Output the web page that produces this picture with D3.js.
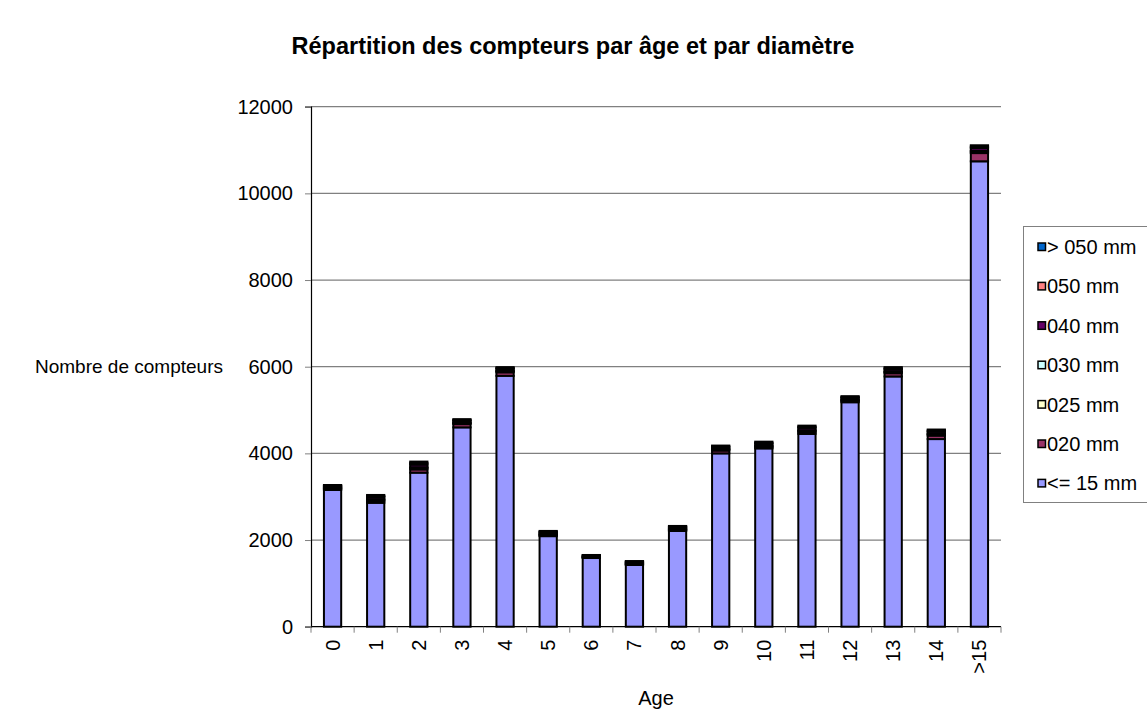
<!DOCTYPE html>
<html>
<head>
<meta charset="utf-8">
<script src="https://cdn.jsdelivr.net/npm/d3@7"></script>
<style>
  body { margin: 0; background: #fff; }
  text { font-family: "Liberation Sans", Arial, sans-serif; fill: #000; }
</style>
</head>
<body>
<div id="chart"></div>
<script>
// categories (age) and series (diameter)
var ages = ["0", "1", "2", "3", "4", "5", "6", "7", "8", "9", "10", "11", "12", "13", "14", ">15"];
var seriesNames = ["<= 15 mm", "020 mm", "025 mm", "030 mm", "040 mm", "050 mm", "> 050 mm"];
var seriesColors = ["#9999ff", "#993366", "#ffffcc", "#ccffff", "#660066", "#ff8080", "#0066cc"];

var le15   = [3155, 2860, 3555, 4600, 5790, 2090, 1585, 1425, 2210, 4000, 4115, 4450, 5180, 5775, 4330, 10740];
var d020   = [25, 40, 75, 75, 80, 20, 10, 15, 20, 65, 25, 40, 25, 75, 80, 190];
var d025   = [20, 30, 35, 25, 25, 20, 12, 15, 20, 25, 25, 30, 25, 30, 30, 35];
var d030   = [10, 15, 15, 10, 10, 10, 6, 8, 10, 10, 15, 15, 10, 10, 10, 20];
var d040   = [30, 50, 60, 40, 45, 35, 22, 27, 33, 40, 45, 55, 40, 50, 50, 65];
var d050   = [15, 20, 35, 20, 20, 15, 10, 12, 15, 20, 20, 25, 20, 25, 25, 30];
var dgt050 = [15, 25, 35, 20, 20, 20, 10, 13, 17, 20, 25, 25, 20, 25, 25, 30];
var yTicks = [0, 2000, 4000, 6000, 8000, 10000, 12000];

var width = 1147, height = 711;
var mLeft = 311, mRight = 1001, mTop = 106.7, mBottom = 626.7;

// rows for d3.stack
var cols = [le15, d020, d025, d030, d040, d050, dgt050];
var rows = ages.map(function(a, i) {
    var r = { age: a };
    seriesNames.forEach(function(s, j) { r[s] = cols[j][i]; });
    return r;
});

var svg = d3.select("#chart").append("svg")
    .attr("width", width)
    .attr("height", height);

var x = d3.scaleBand().domain(ages).range([mLeft, mRight]).paddingInner(0.6).paddingOuter(0.3);
var y = d3.scaleLinear().domain([0, 12000]).range([mBottom, mTop]);

// gridlines
svg.append("g").selectAll("line")
    .data(yTicks.slice(1))
    .enter().append("line")
    .attr("x1", mLeft).attr("x2", mRight)
    .attr("y1", function(d) { return y(d); })
    .attr("y2", function(d) { return y(d); })
    .attr("stroke", "#808080")
    .attr("stroke-width", 1.2);

// y axis
var yAxis = svg.append("g")
    .attr("transform", "translate(" + mLeft + ",0)")
    .call(d3.axisLeft(y).tickValues(yTicks).tickFormat(d3.format("d")).tickSize(6).tickPadding(12));
yAxis.select(".domain").attr("stroke", "#000").attr("stroke-width", 1.2);
yAxis.selectAll(".tick line").attr("stroke", "#808080");
yAxis.selectAll("text")
    .style("font-size", "20px")
    .style("font-family", "Liberation Sans, Arial, sans-serif")
    .attr("fill", "#000");

// x axis: ticks between the categories
var xg = svg.append("g");
xg.append("line")
    .attr("x1", mLeft).attr("x2", mRight)
    .attr("y1", mBottom).attr("y2", mBottom)
    .attr("stroke", "#000").attr("stroke-width", 1.2);
xg.selectAll("line.tk")
    .data(d3.range(ages.length + 1))
    .enter().append("line")
    .attr("class", "tk")
    .attr("x1", function(i) { return mLeft + i * x.step(); })
    .attr("x2", function(i) { return mLeft + i * x.step(); })
    .attr("y1", mBottom).attr("y2", mBottom + 6)
    .attr("stroke", "#808080");
xg.selectAll("text")
    .data(ages)
    .enter().append("text")
    .attr("transform", function(d) {
        return "translate(" + (x(d) + x.bandwidth() / 2 + 7) + "," + (mBottom + 13) + ") rotate(-90)";
    })
    .attr("text-anchor", "end")
    .style("font-size", "20px")
    .text(function(d) { return d; });

// stacked bars
var layers = d3.stack().keys(seriesNames)(rows);

svg.append("g").selectAll("g")
    .data(layers)
    .enter().append("g")
    .attr("fill", function(d, i) { return seriesColors[i]; })
    .selectAll("rect")
    .data(function(d) { return d; })
    .enter().append("rect")
    .attr("x", function(d) { return x(d.data.age); })
    .attr("width", x.bandwidth())
    .attr("y", function(d) { return y(d[1]); })
    .attr("height", function(d) { return y(d[0]) - y(d[1]); })
    .attr("stroke", "#000")
    .attr("stroke-width", 2);

// title and axis titles
svg.append("text")
    .attr("x", 573).attr("y", 54)
    .attr("text-anchor", "middle")
    .style("font-size", "23.5px")
    .style("font-weight", "bold")
    .text("Répartition des compteurs par âge et par diamètre");

svg.append("text")
    .attr("x", 35).attr("y", 373)
    .style("font-size", "19px")
    .text("Nombre de compteurs");

svg.append("text")
    .attr("x", (mLeft + mRight) / 2).attr("y", 705)
    .attr("text-anchor", "middle")
    .style("font-size", "20px")
    .text("Age");

// legend, last series on top
var legend = svg.append("g");
legend.append("rect")
    .attr("x", 1023.5).attr("y", 226.5)
    .attr("width", 140).attr("height", 276)
    .attr("fill", "#fff")
    .attr("stroke", "#808080");

var legItems = seriesNames.map(function(s, i) { return { name: s, color: seriesColors[i] }; }).reverse();
var li = legend.selectAll("g.item")
    .data(legItems)
    .enter().append("g")
    .attr("class", "item")
    .attr("transform", function(d, i) { return "translate(1038," + (247 + i * 39.4) + ")"; });
li.append("rect")
    .attr("x", 0).attr("y", -4)
    .attr("width", 7.5).attr("height", 7.5)
    .attr("fill", function(d) { return d.color; })
    .attr("stroke", "#000")
    .attr("stroke-width", 1.5);
li.append("text")
    .attr("x", 9).attr("y", 7)
    .style("font-size", "20px")
    .text(function(d) { return d.name; });
</script>
</body>
</html>
